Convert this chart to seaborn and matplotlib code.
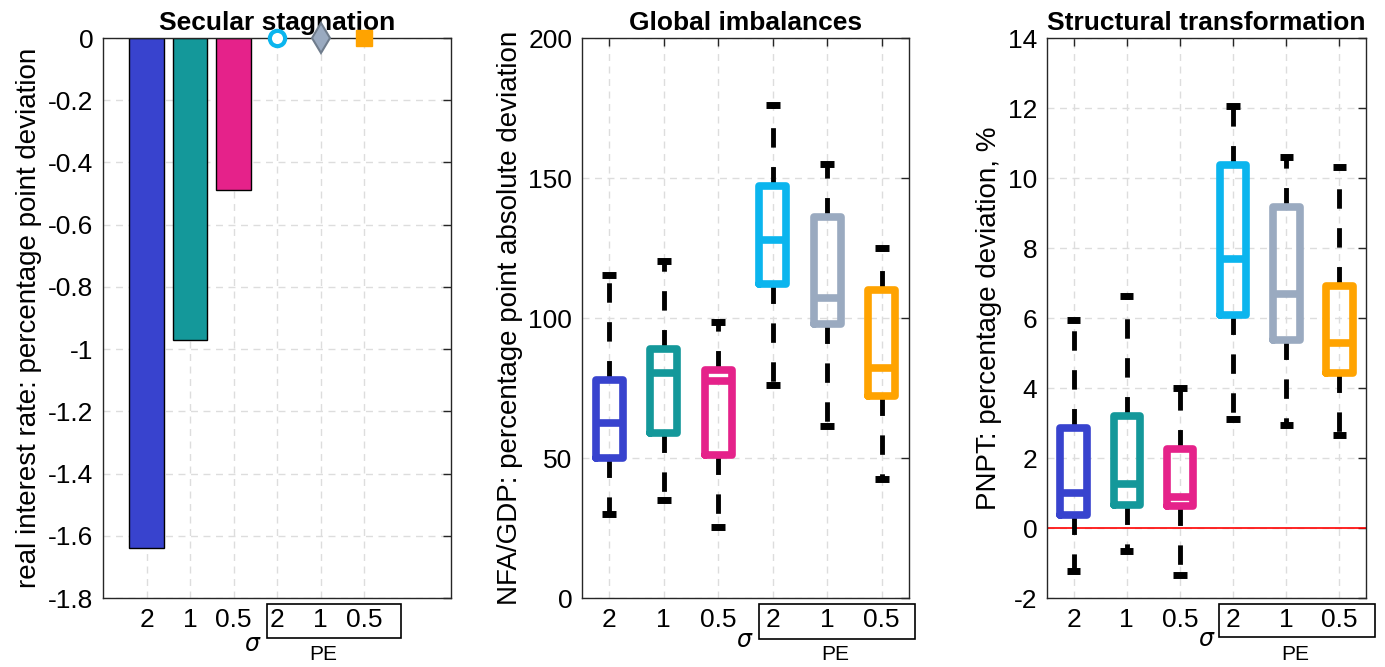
import matplotlib
matplotlib.use('Agg')
import matplotlib.pyplot as plt
from matplotlib.patches import Rectangle
from matplotlib.ticker import FuncFormatter
import seaborn as sns

sns.set_theme(style='white')
plt.rcParams['font.family'] = ['Liberation Sans', 'DejaVu Sans']
plt.rcParams['axes.unicode_minus'] = False
plt.rcParams['text.color'] = 'black'
plt.rcParams['axes.labelcolor'] = 'black'

# data
labels = ['2', '1', '0.5', '2', '1', '0.5']
colors = ['#3843CE', '#14989A', '#E5228A', '#0BB5EE', '#9AAAC0', '#FFA300']

rate_dev = [-1.64, -0.97, -0.49]     # sigma = 2, 1, 0.5
rate_dev_pe = [0.0, 0.0, 0.0]        # PE cases

nfa_q1 = [50, 59, 51, 112, 98, 72]
nfa_med = [62.5, 80.5, 77.5, 128, 107, 82]
nfa_q3 = [78, 89, 81.5, 147, 136, 110]
nfa_lo = [30, 35, 25.5, 76, 61.5, 42.5]
nfa_hi = [115.5, 120.5, 98.5, 176, 155, 125]

pnpt_q1 = [0.37, 0.66, 0.63, 6.1, 5.37, 4.42]
pnpt_med = [1.0, 1.25, 0.9, 7.7, 6.7, 5.28]
pnpt_q3 = [2.85, 3.2, 2.25, 10.37, 9.16, 6.92]
pnpt_lo = [-1.22, -0.65, -1.34, 3.12, 2.94, 2.66]
pnpt_hi = [5.94, 6.64, 4.0, 12.05, 10.6, 10.32]

positions = [1, 2, 3, 4, 5, 6]

fig = plt.figure(figsize=(13.85, 6.67), dpi=100)
ax1 = fig.add_axes([0.0744, 0.1034, 0.2513, 0.8396])
ax2 = fig.add_axes([0.4202, 0.1034, 0.2361, 0.8396])
ax3 = fig.add_axes([0.7560, 0.1034, 0.2303, 0.8396])

TICK_FS = 19
LABEL_FS = 20
TITLE_FS = 19


def style_axis(ax):
    ax.grid(True, linestyle=(0, (5, 4)), color='#DDDDDD', linewidth=1)
    ax.set_axisbelow(True)
    for s in ax.spines.values():
        s.set_color('#262626')
        s.set_linewidth(1.0)
        s.set_visible(True)
    ax.tick_params(direction='in', top=True, right=True, length=6, width=1,
                   labelsize=TICK_FS, pad=7, colors='#262626', labelcolor='black')
    ax.set_xticks(positions)
    ax.set_xticklabels(labels)
    ax.yaxis.set_major_formatter(FuncFormatter(lambda v, p: '%g' % round(v, 4)))


# panel 1: secular stagnation
sns.barplot(x=positions[:3], y=rate_dev, hue=positions[:3], palette=colors[:3],
            native_scale=True, width=0.8, edgecolor='black', linewidth=1,
            saturation=1, legend=False, ax=ax1, zorder=2)
mk = [('o', 'white', 11, 3), ('d', colors[4], 15, 1.5), ('s', colors[5], 11, 1)]
for p, v, c, (m, fc, ms, mew) in zip(positions[3:], rate_dev_pe, colors[3:], mk):
    ax1.plot([p], [v], marker=m, color=c, mfc=fc, ms=ms, mew=mew,
             mec=c if m != 'd' else '#6F7C8C', clip_on=False, zorder=5)
ax1.set_xlim(0, 8)
ax1.set_ylim(-1.8, 0)
ax1.set_yticks([-1.8 + 0.2 * i for i in range(10)])
style_axis(ax1)
ax1.set_title('Secular stagnation', fontsize=TITLE_FS, fontweight='bold', pad=6)
ax1.set_ylabel('real interest rate: percentage point deviation', fontsize=LABEL_FS)


def draw_boxes(ax, q1, med, q3, lo, hi):
    stats = []
    for i in range(len(q1)):
        stats.append(dict(q1=q1[i], med=med[i], q3=q3[i],
                          whislo=lo[i], whishi=hi[i], fliers=[]))
    art = ax.bxp(stats, positions=positions, widths=0.5, showfliers=False,
                 patch_artist=False, manage_ticks=False)
    for i, b in enumerate(art['boxes']):
        b.set_color(colors[i])
        b.set_linewidth(5.5)
        b.set_solid_joinstyle('round')
        b.set_zorder(4)
    for i, m in enumerate(art['medians']):
        m.set_color(colors[i])
        m.set_linewidth(5.5)
        m.set_solid_capstyle('butt')
        m.set_zorder(4)
    for w in art['whiskers']:
        w.set_color('black')
        w.set_linewidth(3.5)
        w.set_linestyle((0, (4, 4)))
        w.set_dash_capstyle('butt')
        w.set_zorder(3)
    for c in art['caps']:
        c.set_color('black')
        c.set_linewidth(5)
        c.set_solid_capstyle('butt')
        c.set_zorder(3)


# panel 2: global imbalances
draw_boxes(ax2, nfa_q1, nfa_med, nfa_q3, nfa_lo, nfa_hi)
ax2.set_xlim(0.5, 6.5)
ax2.set_ylim(0, 200)
ax2.set_yticks([0, 50, 100, 150, 200])
style_axis(ax2)
ax2.set_title('Global imbalances', fontsize=TITLE_FS, fontweight='bold', pad=6)
ax2.set_ylabel('NFA/GDP: percentage point absolute deviation', fontsize=LABEL_FS)

# panel 3: structural transformation
ax3.axhline(0, color='red', linewidth=1.2, zorder=2)
draw_boxes(ax3, pnpt_q1, pnpt_med, pnpt_q3, pnpt_lo, pnpt_hi)
ax3.set_xlim(0.5, 6.5)
ax3.set_ylim(-2, 14)
ax3.set_yticks(list(range(-2, 15, 2)))
style_axis(ax3)
ax3.set_title('Structural transformation', fontsize=TITLE_FS, fontweight='bold', pad=6)
ax3.set_ylabel('PNPT: percentage deviation, %', fontsize=LABEL_FS)

# PE boxes, sigma and PE labels under each panel
W, H = 1385.0, 667.0
annot = [  # (box x0, x1, y_top, y_bottom, sigma x, sigma y, PE x, PE y) in px
    (267, 401, 604, 638, 253, 645, 323, 655),
    (759, 915, 604, 639, 745, 641, 835, 655),
    (1219, 1375, 604, 637, 1207, 640, 1295, 655),
]
for x0, x1, yt, yb, sx, sy, px, py in annot:
    fig.patches.append(Rectangle((x0 / W, 1 - yb / H), (x1 - x0) / W, (yb - yt) / H,
                                 transform=fig.transFigure, fill=False,
                                 edgecolor='black', linewidth=1.2))
    fig.text(sx / W, 1 - sy / H, r'$\sigma$', fontsize=17, ha='center', va='center')
    fig.text(px / W, 1 - py / H, 'PE', fontsize=15, ha='center', va='center')

fig.savefig('out.png', dpi=100)
